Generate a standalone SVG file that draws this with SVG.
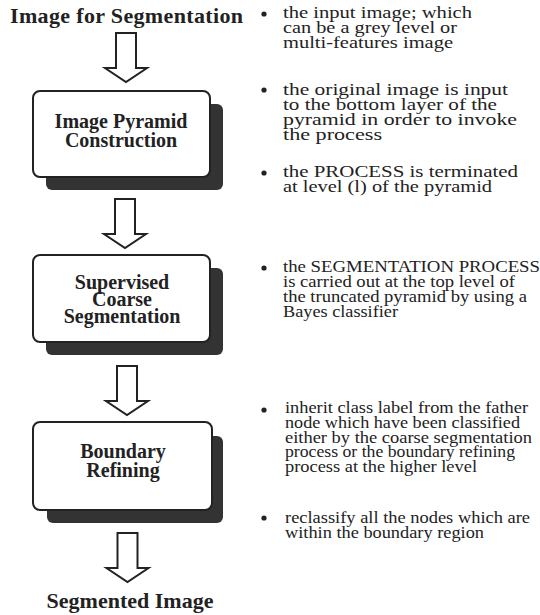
<svg xmlns="http://www.w3.org/2000/svg" xmlns:xlink="http://www.w3.org/1999/xlink" width="540" height="615" viewBox="0 0 540 615">
<defs>
<style>
.title{font-family:"Liberation Serif","Times New Roman",serif;font-weight:bold;font-size:22px;fill:#222;}
.lbl{font-family:"Liberation Serif","Times New Roman",serif;font-weight:bold;font-size:20px;fill:#222;text-anchor:middle;}
.note{font-family:"Liberation Serif","Times New Roman",serif;font-size:16px;fill:#222;}
.box{fill:#fff;stroke:#222;stroke-width:2;}
.shadow{fill:#333;}
.arrow{fill:#fff;stroke:#222;stroke-width:2;stroke-linejoin:miter;}
.dot{fill:#222;}
</style>
<path id="blockArrow" d="M-10,0 V35 H-21 L0,49 L21,35 H10 V0 Z"/>
</defs>
<rect width="540" height="615" fill="#fff"/>

<g id="input">
<text class="title" x="10" y="23" textLength="233">Image for Segmentation</text>
</g>

<g id="pyramid">
<rect class="shadow" x="46" y="104" width="177" height="86" rx="6"/>
<rect class="box" x="33" y="91" width="177" height="86" rx="7"/>
<text class="lbl" x="121" y="128">Image Pyramid</text>
<text class="lbl" x="121" y="147">Construction</text>
</g>

<g id="coarse">
<rect class="shadow" x="46" y="268" width="177" height="87" rx="6"/>
<rect class="box" x="33" y="255" width="177" height="87" rx="7"/>
<text class="lbl" x="122" y="289">Supervised</text>
<text class="lbl" x="122" y="306">Coarse</text>
<text class="lbl" x="122" y="323">Segmentation</text>
</g>

<g id="boundary">
<rect class="shadow" x="47" y="436" width="176" height="87" rx="6"/>
<rect class="box" x="33" y="422" width="179" height="88" rx="7"/>
<text class="lbl" x="123" y="458">Boundary</text>
<text class="lbl" x="123" y="477">Refining</text>
</g>

<g id="output">
<text class="title" x="130" y="608" text-anchor="middle">Segmented Image</text>
</g>

<g id="connectors">
<use xlink:href="#blockArrow" class="arrow" transform="translate(126,33)"/>
<use xlink:href="#blockArrow" class="arrow" transform="translate(125,199)"/>
<use xlink:href="#blockArrow" class="arrow" transform="translate(127,366)"/>
<use xlink:href="#blockArrow" class="arrow" transform="translate(127.5,533)"/>
</g>

<g id="notes">
<circle class="dot" cx="264" cy="14" r="2.6"/>
<text class="note" x="283" y="18" textLength="189" lengthAdjust="spacingAndGlyphs">the input image; which</text>
<text class="note" x="283" y="33" textLength="174" lengthAdjust="spacingAndGlyphs">can be a grey level or</text>
<text class="note" x="283" y="48" textLength="170" lengthAdjust="spacingAndGlyphs">multi-features image</text>

<circle class="dot" cx="264" cy="90" r="2.6"/>
<text class="note" x="283" y="95" textLength="225" lengthAdjust="spacingAndGlyphs">the original image is input</text>
<text class="note" x="283" y="110" textLength="214" lengthAdjust="spacingAndGlyphs">to the bottom layer of the</text>
<text class="note" x="283" y="125" textLength="234" lengthAdjust="spacingAndGlyphs">pyramid in order to invoke</text>
<text class="note" x="283" y="140" textLength="99" lengthAdjust="spacingAndGlyphs">the process</text>

<circle class="dot" cx="264" cy="173" r="2.6"/>
<text class="note" x="283" y="177" textLength="235" lengthAdjust="spacingAndGlyphs">the PROCESS is terminated</text>
<text class="note" x="283" y="192" textLength="209" lengthAdjust="spacingAndGlyphs">at level (l) of the pyramid</text>

<circle class="dot" cx="264" cy="268" r="2.6"/>
<text class="note" x="283" y="272" textLength="257" lengthAdjust="spacingAndGlyphs">the SEGMENTATION PROCESS</text>
<text class="note" x="283" y="287" textLength="232" lengthAdjust="spacingAndGlyphs">is carried out at the top level of</text>
<text class="note" x="283" y="302" textLength="244" lengthAdjust="spacingAndGlyphs">the truncated pyramid by using a</text>
<text class="note" x="283" y="317" textLength="115" lengthAdjust="spacingAndGlyphs">Bayes classifier</text>

<circle class="dot" cx="264" cy="410" r="2.6"/>
<text class="note" x="285" y="413" textLength="243" lengthAdjust="spacingAndGlyphs">inherit class label from the father</text>
<text class="note" x="285" y="428" textLength="235" lengthAdjust="spacingAndGlyphs">node which have been classified</text>
<text class="note" x="285" y="443" textLength="247" lengthAdjust="spacingAndGlyphs">either by the coarse segmentation</text>
<text class="note" x="285" y="457" textLength="230" lengthAdjust="spacingAndGlyphs">process or the boundary refining</text>
<text class="note" x="285" y="472" textLength="192" lengthAdjust="spacingAndGlyphs">process at the higher level</text>

<circle class="dot" cx="264" cy="518" r="2.6"/>
<text class="note" x="285" y="523" textLength="245" lengthAdjust="spacingAndGlyphs">reclassify all the nodes which are</text>
<text class="note" x="285" y="538" textLength="199" lengthAdjust="spacingAndGlyphs">within the boundary region</text>
</g>
</svg>
